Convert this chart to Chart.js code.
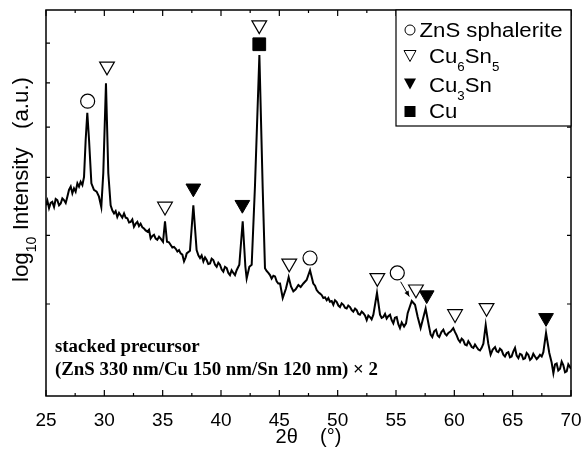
<!DOCTYPE html>
<html>
<head>
<meta charset="utf-8">
<script src="https://cdn.jsdelivr.net/npm/chart.js@4/dist/chart.umd.min.js"></script>
<style>
  html, body { margin: 0; padding: 0; background: #fff; }
  #wrap { width: 585px; height: 454px; position: relative; }
</style>
</head>
<body>
<div id="wrap"><canvas id="chart"></canvas></div>
<script>
// XRD scan (2theta in degrees, intensity in arbitrary units on a log axis)
const TWO_THETA = [
    25.0, 25.12, 25.26, 25.40, 25.54, 25.69, 25.83, 25.97, 26.12, 26.26, 26.40, 26.54, 26.69, 26.83, 26.97, 27.12,
    27.26, 27.40, 27.54, 27.69, 27.83, 27.97, 28.12, 28.26, 28.40, 28.54, 28.69, 28.89, 29.11, 29.34, 29.54, 29.74,
    29.91, 30.14, 30.34, 30.54, 30.69, 30.83, 30.97, 31.11, 31.26, 31.40, 31.54, 31.69, 31.83, 31.97, 32.12, 32.26,
    32.40, 32.54, 32.69, 32.83, 32.97, 33.11, 33.26, 33.40, 33.54, 33.69, 33.83, 33.97, 34.12, 34.26, 34.40, 34.54,
    34.69, 34.83, 35.03, 35.20, 35.37, 35.54, 35.69, 35.83, 35.97, 36.12, 36.26, 36.40, 36.54, 36.69, 36.83, 36.97,
    37.06, 37.34, 37.63, 37.91, 38.06, 38.20, 38.34, 38.49, 38.63, 38.77, 38.91, 39.06, 39.20, 39.34, 39.49, 39.63,
    39.77, 39.91, 40.06, 40.20, 40.34, 40.49, 40.63, 40.77, 40.91, 41.06, 41.20, 41.34, 41.57, 41.86, 42.09, 42.20,
    42.43, 42.63, 42.91, 43.29, 43.57, 43.77, 43.91, 44.06, 44.20, 44.34, 44.49, 44.63, 44.77, 44.91, 45.06, 45.29,
    45.57, 45.80, 46.00, 46.20, 46.40, 46.63, 46.83, 47.06, 47.34, 47.63, 47.91, 48.06, 48.20, 48.34, 48.49, 48.63,
    48.77, 48.91, 49.06, 49.20, 49.34, 49.49, 49.63, 49.77, 49.91, 50.06, 50.20, 50.34, 50.49, 50.63, 50.77, 50.91,
    51.06, 51.20, 51.34, 51.49, 51.63, 51.77, 51.91, 52.06, 52.20, 52.34, 52.49, 52.63, 52.77, 52.91, 53.06, 53.37,
    53.63, 53.77, 53.91, 54.06, 54.20, 54.34, 54.49, 54.63, 54.77, 54.91, 55.06, 55.20, 55.34, 55.49, 55.69, 55.86,
    56.00, 56.35, 56.63, 56.86, 57.11, 57.54, 57.83, 57.97, 58.11, 58.27, 58.43, 58.57, 58.71, 58.89, 59.06, 59.20,
    59.34, 59.49, 59.69, 59.91, 60.06, 60.20, 60.34, 60.49, 60.63, 60.77, 60.91, 61.06, 61.20, 61.34, 61.49, 61.63,
    61.77, 61.91, 62.06, 62.20, 62.34, 62.49, 62.69, 62.91, 63.11, 63.29, 63.49, 63.63, 63.77, 63.91, 64.06, 64.20,
    64.34, 64.49, 64.63, 64.77, 64.91, 65.06, 65.20, 65.34, 65.49, 65.63, 65.77, 65.91, 66.06, 66.20, 66.34, 66.49,
    66.63, 66.77, 66.91, 67.06, 67.20, 67.34, 67.49, 67.63, 67.86, 68.14, 68.34, 68.49, 68.63, 68.77, 68.91, 69.06,
    69.20, 69.34, 69.49, 69.63, 69.77, 70.0
];
const INTENSITY = [
    65.0, 65.8, 64.5, 65.4, 65.6, 64.7, 66.1, 65.9, 65.0, 65.3, 66.2, 65.9, 65.4, 66.5, 67.7, 68.3,
    67.1, 68.0, 67.4, 68.9, 68.3, 69.2, 68.6, 70.1, 77.3, 83.1, 77.3, 68.9, 67.7, 67.4, 66.5, 64.7,
    70.8, 89.9, 70.8, 65.0, 64.1, 63.6, 64.0, 63.0, 63.7, 63.3, 62.9, 63.6, 62.9, 62.8, 62.1, 62.2,
    62.6, 61.4, 61.9, 62.2, 61.5, 61.9, 61.3, 61.1, 60.8, 60.6, 60.9, 59.5, 59.9, 60.1, 59.5, 59.3,
    59.8, 59.5, 59.0, 62.3, 59.0, 58.9, 58.5, 58.1, 58.2, 57.9, 57.5, 57.7, 57.2, 57.0, 56.0, 56.6,
    57.2, 57.6, 65.0, 57.7, 56.9, 56.5, 56.9, 56.0, 56.6, 56.2, 55.6, 55.7, 56.4, 56.2, 55.5, 55.2,
    55.8, 55.5, 54.8, 54.5, 55.2, 55.0, 54.3, 54.0, 54.7, 54.3, 54.0, 54.7, 55.5, 62.3, 55.2, 53.5,
    55.2, 55.5, 68.3, 96.9, 68.3, 55.0, 54.6, 54.3, 54.0, 53.5, 53.9, 53.8, 53.1, 52.8, 52.8, 50.8,
    52.1, 53.7, 52.4, 51.7, 52.0, 52.6, 52.3, 52.8, 53.3, 54.7, 52.8, 52.5, 51.9, 51.6, 51.4, 51.2,
    50.8, 50.9, 50.5, 50.8, 50.3, 50.4, 49.9, 50.5, 50.3, 49.8, 49.6, 50.1, 49.9, 49.5, 49.4, 49.8,
    49.6, 49.2, 49.0, 49.4, 49.2, 48.7, 48.6, 49.0, 48.8, 48.5, 47.9, 48.5, 48.3, 48.0, 48.6, 51.5,
    48.6, 48.2, 48.3, 48.7, 48.1, 48.4, 48.6, 47.9, 47.5, 48.2, 48.3, 47.4, 46.9, 47.6, 47.1, 47.5,
    48.8, 50.4, 49.9, 48.3, 46.9, 49.4, 47.1, 46.1, 45.8, 46.5, 46.7, 46.0, 45.8, 46.4, 46.7, 46.2,
    46.0, 46.3, 46.5, 46.9, 46.4, 46.0, 45.5, 45.2, 45.6, 45.4, 44.9, 44.8, 45.3, 45.0, 44.6, 44.5,
    44.9, 44.6, 44.3, 44.2, 44.5, 45.0, 47.3, 45.0, 43.7, 44.3, 44.6, 44.1, 44.0, 44.4, 44.2, 43.7,
    43.5, 43.9, 44.0, 43.4, 43.5, 44.1, 44.5, 43.6, 43.3, 43.8, 43.7, 43.2, 43.3, 43.9, 43.7, 43.1,
    43.3, 43.8, 43.5, 43.2, 43.4, 43.7, 43.5, 44.0, 46.3, 43.9, 42.8, 41.6, 42.6, 42.7, 41.9, 42.1,
    42.9, 42.5, 41.7, 41.8, 42.6, 42.1
];

// phase markers placed above the peaks
const ZNS_X = [28.57, 47.63, 55.11];
const ZNS_Y = [85.7, 56.5, 54.3];
const CU6SN5_X = [30.23, 35.2, 43.28, 45.85, 53.4, 56.71, 60.06, 62.76];
const CU6SN5_Y = [94.0, 64.8, 104.9, 55.7, 53.6, 52.0, 48.7, 49.5];
const CU3SN_X = [37.63, 41.83, 57.63, 67.86];
const CU3SN_Y = [68.0, 65.1, 51.2, 48.2];
const CU_X = [43.28];
const CU_Y = [99.7];

// arrow from the circle at ~55 deg down to the shoulder peak
const ARROW_X = [55.4, 56.14];
const ARROW_Y = [53.05, 51.0];

const X_TICKS = [25, 27.5, 30, 32.5, 35, 37.5, 40, 42.5, 45, 47.5, 50, 52.5, 55, 57.5, 60, 62.5, 65, 67.5, 70];
const Y_TICKS = [50, 60, 70, 80, 90, 100];

const NOTE = ['stacked precursor', '(ZnS 330 nm/Cu 150 nm/Sn 120 nm) \u00d7 2'];

const SANS = '"Liberation Sans", Arial, sans-serif';
const SERIF = '"Liberation Serif", "Times New Roman", serif';

const pairs = (xs, ys) => xs.map((x, i) => ({x, y: ys[i]}));

// text with subscripts: runs = [[text, isSub], ...]
function runsWidth(ctx, runs, size, family, weight = '') {
    let w = 0;
    runs.forEach(([t, sub]) => {
        ctx.font = `${weight} ${sub ? Math.round(size * 0.62) : size}px ${family}`;
        w += ctx.measureText(t).width;
    });
    return w;
}
function drawRuns(ctx, runs, x, y, size, family, sx, weight = '') {
    ctx.save();
    ctx.translate(x, y);
    ctx.scale(sx, 1);
    let cx = 0;
    runs.forEach(([t, sub]) => {
        ctx.font = `${weight} ${sub ? Math.round(size * 0.62) : size}px ${family}`;
        ctx.fillText(t, cx, sub ? size * 0.38 : 0);
        cx += ctx.measureText(t).width;
    });
    ctx.restore();
}

function symbol(ctx, kind, x, y) {
    ctx.beginPath();
    if (kind === 'circle') {
        ctx.arc(x, y, 5, 0, Math.PI * 2);
        ctx.stroke();
    } else if (kind === 'rect') {
        ctx.fillRect(x - 5.5, y - 5.5, 11, 11);
    } else {
        ctx.moveTo(x - 6, y - 5.5);
        ctx.lineTo(x + 6, y - 5.5);
        ctx.lineTo(x, y + 5.5);
        ctx.closePath();
        if (kind === 'tri-open') ctx.stroke(); else ctx.fill();
    }
}

const decor = {
    id: 'decor',
    afterDraw(chart) {
        const {ctx, chartArea: a, scales: {x, y}} = chart;
        ctx.save();
        ctx.strokeStyle = '#000';
        ctx.fillStyle = '#000';

        // frame + inward ticks on all four sides
        ctx.lineWidth = 1.5;
        ctx.strokeRect(a.left, a.top, a.right - a.left, a.bottom - a.top);
        ctx.lineWidth = 1.2;
        ctx.beginPath();
        X_TICKS.forEach(v => {
            const px = x.getPixelForValue(v);
            const len = v % 5 === 0 ? 6 : 3;
            ctx.moveTo(px, a.bottom); ctx.lineTo(px, a.bottom - len);
            ctx.moveTo(px, a.top); ctx.lineTo(px, a.top + len);
        });
        Y_TICKS.forEach(v => {
            const py = y.getPixelForValue(v);
            ctx.moveTo(a.left, py); ctx.lineTo(a.left + 4, py);
            ctx.moveTo(a.right, py); ctx.lineTo(a.right - 4, py);
        });
        ctx.stroke();

        // arrow
        const x0 = x.getPixelForValue(ARROW_X[0]), y0 = y.getPixelForValue(ARROW_Y[0]);
        const x1 = x.getPixelForValue(ARROW_X[1]), y1 = y.getPixelForValue(ARROW_Y[1]);
        const ang = Math.atan2(y1 - y0, x1 - x0);
        ctx.lineWidth = 1;
        ctx.beginPath();
        ctx.moveTo(x0, y0); ctx.lineTo(x1, y1);
        ctx.stroke();
        ctx.beginPath();
        ctx.moveTo(x1, y1);
        ctx.lineTo(x1 - 6 * Math.cos(ang - 0.4), y1 - 6 * Math.sin(ang - 0.4));
        ctx.lineTo(x1 - 6 * Math.cos(ang + 0.4), y1 - 6 * Math.sin(ang + 0.4));
        ctx.closePath();
        ctx.fill();

        // legend
        const lx = a.right - 175, ly = a.top, lh = 116;
        ctx.fillStyle = '#fff';
        ctx.fillRect(lx, ly, a.right - lx, lh);
        ctx.fillStyle = '#000';
        ctx.lineWidth = 1.2;
        ctx.strokeRect(lx, ly, a.right - lx, lh);
        const lsize = 20;
        const first = [['ZnS sphalerite', 0]];
        const lsx = 143 / runsWidth(ctx, first, lsize, SANS);
        const rows = [
            ['circle', first, 20, 27],
            ['tri-open', [['Cu', 0], ['6', 1], ['Sn', 0], ['5', 1]], 46, 53],
            ['tri-fill', [['Cu', 0], ['3', 1], ['Sn', 0]], 74, 82],
            ['rect', [['Cu', 0]], 101.5, 108]
        ];
        ctx.lineWidth = 1;
        rows.forEach(([kind, runs, sy, base], i) => {
            symbol(ctx, kind, lx + 14, ly + sy);
            drawRuns(ctx, runs, lx + (i === 0 ? 23.5 : 33), ly + base, lsize, SANS, lsx);
        });

        // sample note
        const nsize = 18;
        const nsx = 323 / runsWidth(ctx, [[NOTE[1], 0]], nsize, SERIF, 'bold');
        drawRuns(ctx, [[NOTE[0], 0]], a.left + 9, a.bottom - 44, nsize, SERIF, nsx, 'bold');
        drawRuns(ctx, [[NOTE[1], 0]], a.left + 9, a.bottom - 21, nsize, SERIF, nsx, 'bold');

        // y axis title
        const yruns = [['log', 0], ['10', 1], [' Intensity   (a.u.)', 0]];
        const ysize = 22;
        const ysx = 205 / runsWidth(ctx, yruns, ysize, SANS);
        ctx.save();
        ctx.translate(28, 282);
        ctx.rotate(-Math.PI / 2);
        drawRuns(ctx, yruns, 0, 0, ysize, SANS, ysx);
        ctx.restore();

        ctx.restore();
    }
};

new Chart(
    document.getElementById('chart'),
    {
        type: 'scatter',
        data: {
            datasets: [
                {
                    label: 'scan',
                    data: pairs(TWO_THETA, INTENSITY),
                    showLine: true,
                    borderColor: '#000',
                    borderWidth: 2,
                    pointRadius: 0,
                    tension: 0,
                },
                {
                    label: 'ZnS sphalerite',
                    data: pairs(ZNS_X, ZNS_Y),
                    pointStyle: 'circle',
                    pointRadius: 7,
                    borderColor: '#000',
                    backgroundColor: '#fff',
                    borderWidth: 1.2,
                },
                {
                    label: 'Cu6Sn5',
                    data: pairs(CU6SN5_X, CU6SN5_Y),
                    pointStyle: 'triangle',
                    rotation: 180,
                    pointRadius: 8.5,
                    borderColor: '#000',
                    backgroundColor: '#fff',
                    borderWidth: 1.2,
                },
                {
                    label: 'Cu3Sn',
                    data: pairs(CU3SN_X, CU3SN_Y),
                    pointStyle: 'triangle',
                    rotation: 180,
                    pointRadius: 8.5,
                    borderColor: '#000',
                    backgroundColor: '#000',
                    borderWidth: 1,
                },
                {
                    label: 'Cu',
                    data: pairs(CU_X, CU_Y),
                    pointStyle: 'rect',
                    pointRadius: 9,
                    borderColor: '#000',
                    backgroundColor: '#000',
                    borderWidth: 1,
                },
            ]
        },
        options: {
            responsive: true,
            maintainAspectRatio: false,
            animation: false,
            events: [],
            layout: { padding: { top: 10, right: 14, left: 0, bottom: 0 } },
            scales: {
                x: {
                    type: 'linear',
                    min: 25,
                    max: 70,
                    afterBuildTicks: s => { s.ticks = X_TICKS.map(v => ({value: v})); },
                    afterFit: s => { s.height = 58; s.paddingLeft = 0; s.paddingRight = 0; },
                    grid: { display: false, drawTicks: false },
                    border: { display: false },
                    ticks: {
                        autoSkip: false,
                        maxRotation: 0,
                        padding: 13,
                        color: '#000',
                        font: { family: SANS, size: 19 },
                        callback: v => (v % 5 === 0 ? String(v) : ''),
                    },
                    title: {
                        display: true,
                        text: '2\u03b8    (\u00b0)',
                        color: '#000',
                        font: { family: SANS, size: 20 },
                        padding: { top: 0, bottom: 5 },
                    },
                },
                y: {
                    type: 'logarithmic',
                    min: 39.16,
                    max: 109.2,
                    afterBuildTicks: s => { s.ticks = Y_TICKS.map(v => ({value: v})); },
                    afterFit: s => { s.width = 46; s.paddingTop = 0; s.paddingBottom = 0; },
                    grid: { display: false, drawTicks: false },
                    border: { display: false },
                    ticks: { display: false },
                },
            },
            plugins: {
                legend: { display: false },
                tooltip: { enabled: false },
                title: { display: false },
            }
        },
        plugins: [decor]
    }
);
</script>
</body>
</html>
